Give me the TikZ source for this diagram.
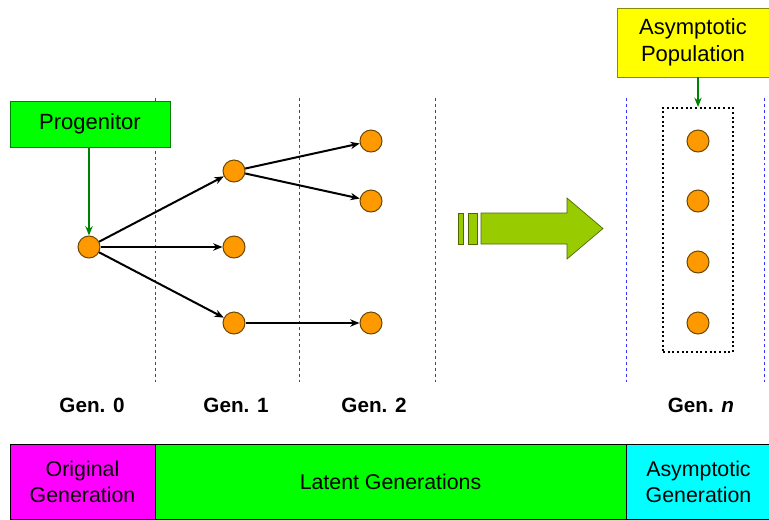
\documentclass[tikz,border=0pt]{standalone}
\usepackage{fontspec}
\setmainfont{Liberation Sans}
\usetikzlibrary{arrows.meta}
\definecolor{boxgreen}{HTML}{00FF00}
\definecolor{boxmagenta}{HTML}{FF00FF}
\definecolor{boxcyan}{HTML}{00FFFF}
\definecolor{boxyellow}{HTML}{FFFF00}
\definecolor{linegreen}{HTML}{008000}
\definecolor{dotorange}{HTML}{FF9900}
\definecolor{dotborder}{HTML}{6B4700}
\definecolor{bigarrow}{HTML}{99CC00}
\definecolor{bigarrowedge}{HTML}{4D6600}
\definecolor{sepblue}{HTML}{3333FF}
\definecolor{yellowedge}{HTML}{8A8A00}
\begin{document}
\begin{tikzpicture}[x=0.75pt,y=-0.75pt,
  dot/.style={circle,fill=dotorange,draw=dotborder,line width=0.75pt,minimum size=16.5pt,inner sep=0pt},
  link/.style={draw=black,line width=1.5pt,-{Stealth[length=7pt,width=5.5pt]}},
  glink/.style={draw=linegreen,line width=1.5pt,-{Stealth[length=7pt,width=5.5pt]}},
  sep/.style={draw=sepblue,line width=0.75pt,dash pattern=on 2.2pt off 2.2pt},
  genlabel/.style={font=\fontsize{15.5}{18}\selectfont\bfseries},
  band/.style={draw=black,line width=0.7pt,inner sep=0pt,outer sep=0pt,minimum height=56.25pt,align=center,font=\fontsize{16}{19.5}\selectfont},
  callout/.style={line width=0.7pt,inner sep=0pt,outer sep=0pt,align=center,font=\fontsize{16.5}{20}\selectfont}]
\useasboundingbox (0,0) rectangle (769,519);
% separators
\foreach \xx/\nm in {155.5/s1,299.5/s2,435.5/s3,626.5/s4,764.5/s5}{
  \coordinate (\nm t) at (\xx,98);
  \coordinate (\nm b) at (\xx,382);
  \draw[sep] (\nm t) -- (\nm b);
}
% callouts
\node[callout,fill=boxgreen,draw=linegreen,minimum width=120pt,minimum height=34.5pt] (prog) at (90,124) {Progenitor};
\node[callout,fill=boxyellow,draw=yellowedge,minimum width=114pt,minimum height=51.75pt] (asym) at (693,42.5) {Asymptotic\\Population};
\node[draw=black,dotted,line width=1.5pt,minimum width=52.5pt,minimum height=183pt,inner sep=0pt] (pop) at (698,230) {};
% dots
\node[dot] (g0) at (89,247) {};
\node[dot] (a1) at (234,171) {};
\node[dot] (b1) at (234,247) {};
\node[dot] (c1) at (234,323) {};
\node[dot] (a2) at (371,141) {};
\node[dot] (b2) at (371,201) {};
\node[dot] (c2) at (371,323) {};
\node[dot] (n1) at (698,141) {};
\node[dot] (n2) at (698,201) {};
\node[dot] (n3) at (698,262) {};
\node[dot] (n4) at (698,323) {};
% connectors
\draw[glink] (prog.south -| g0) -- (g0);
\draw[glink] (asym.south -| pop.north) -- (pop.north);
\draw[link] (g0) -- (a1);
\draw[link] (g0) -- (b1);
\draw[link] (g0) -- (c1);
\draw[link] (a1) -- (a2);
\draw[link] (a1) -- (b2);
\draw[link] (c1) -- (c2);
% big arrow
\draw[fill=bigarrow,draw=bigarrowedge,line width=0.5pt] (458,213) rectangle (463,244);
\draw[fill=bigarrow,draw=bigarrowedge,line width=0.5pt] (468,213) rectangle (477,244);
\draw[fill=bigarrow,draw=bigarrowedge,line width=0.5pt] (481,213) -- (567,213) -- (567,198) -- (603,228.5) -- (567,259) -- (567,244) -- (481,244) -- cycle;
% generation labels
\node[genlabel] (l0) at (92,405) {Gen. 0};
\node[genlabel] (l1) at (236,405) {Gen. 1};
\node[genlabel] (l2) at (374,405) {Gen. 2};
\node[genlabel] (ln) at (701,405) {Gen. \textit{n}};
% bottom bands
\node[band,fill=boxmagenta,minimum width=108.75pt] (orig) at (82.5,481.5) {Original\\Generation};
\node[band,fill=boxgreen,minimum width=353.25pt] (lat) at (390.5,481.5) {Latent Generations};
\node[band,fill=boxcyan,minimum width=108.75pt] (asg) at (698.5,481.5) {Asymptotic\\Generation};
\end{tikzpicture}
\end{document}
